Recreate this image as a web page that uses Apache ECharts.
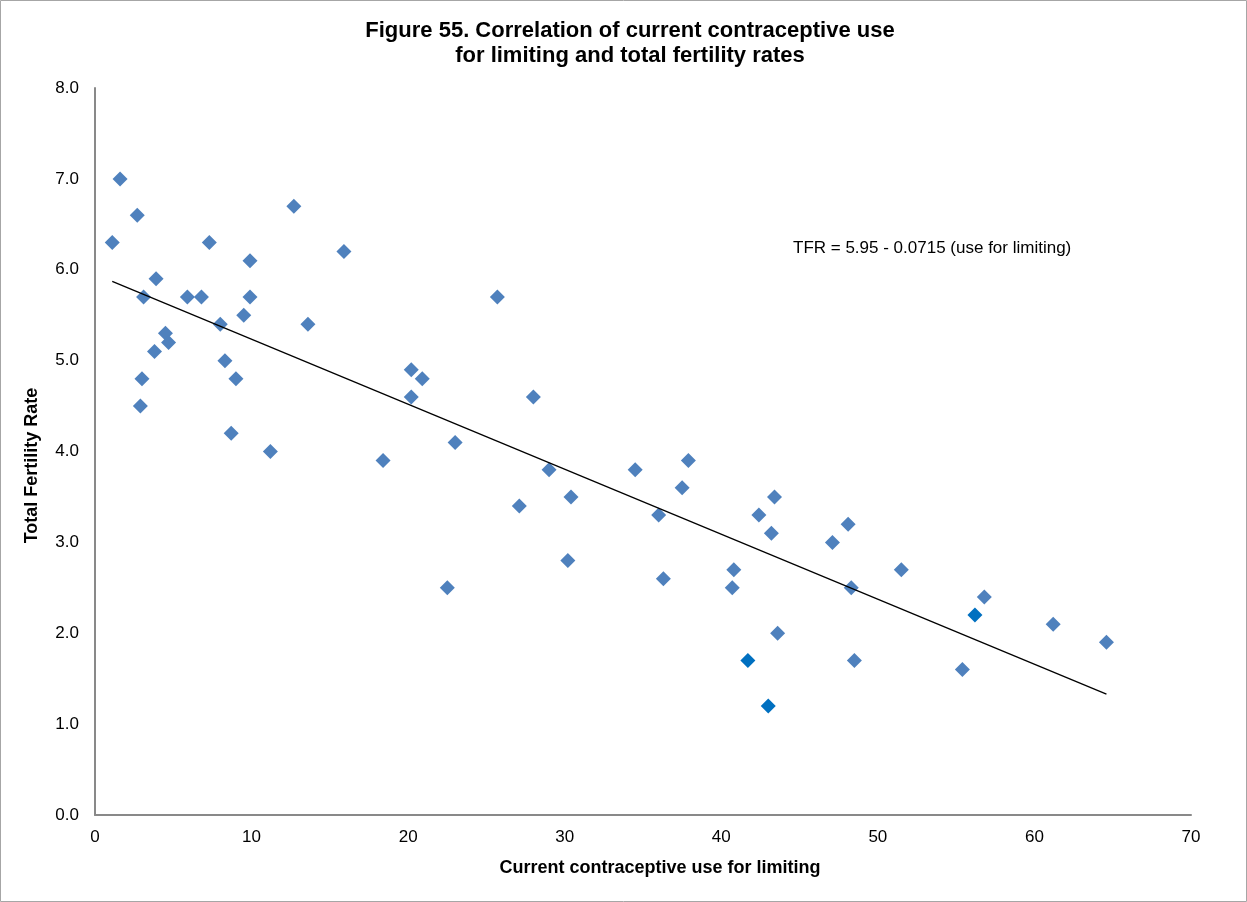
<!DOCTYPE html>
<html>
<head>
<meta charset="utf-8">
<title>Figure 55</title>
<script src="https://cdn.jsdelivr.net/npm/echarts@6/dist/echarts.min.js"></script>
<style>
  html, body { margin: 0; padding: 0; background: #fff; }
  #chart { width: 1247px; height: 902px; }
</style>
</head>
<body>
<div id="chart"></div>
<script>
// Current contraceptive use for limiting (%) per country
const useForLimiting = [
  1.1, 1.6, 2.7, 3.9, 3.1, 4.5, 3.8, 4.7, 3.0, 2.9,
  5.9, 6.8, 7.3, 8.0, 8.3, 9.0, 8.7, 9.5, 9.9, 9.9,
  11.2, 12.7, 13.6, 15.9, 18.4, 20.2, 20.2, 20.9, 22.5, 23.0,
  25.7, 27.1, 28.0, 29.0, 30.4, 30.2, 34.5, 36.0, 36.3, 37.5,
  37.9, 40.8, 40.7, 41.7, 42.4, 43.2, 43.4, 43.0, 43.6, 47.1,
  48.1, 48.3, 48.5, 51.5, 55.4, 56.2, 56.8, 61.2, 64.6
];
// Total fertility rate for the same countries
const totalFertilityRate = [
  6.3, 7.0, 6.6, 5.9, 5.7, 5.3, 5.1, 5.2, 4.8, 4.5,
  5.7, 5.7, 6.3, 5.4, 5.0, 4.8, 4.2, 5.5, 6.1, 5.7,
  4.0, 6.7, 5.4, 6.2, 3.9, 4.9, 4.6, 4.8, 2.5, 4.1,
  5.7, 3.4, 4.6, 3.8, 3.5, 2.8, 3.8, 3.3, 2.6, 3.6,
  3.9, 2.7, 2.5, 1.7, 3.3, 3.1, 3.5, 1.2, 2.0, 3.0,
  3.2, 2.5, 1.7, 2.7, 1.6, 2.2, 2.4, 2.1, 1.9
];
// Points drawn in the darker blue
const darkPoints = [43, 47, 55];

// Fitted regression: TFR = a + b * (use for limiting)
const fitIntercept = 5.95;
const fitSlope = -0.0715;
const fitLabel = 'TFR = 5.95 - 0.0715 (use for limiting)';

const xTicks = [0, 10, 20, 30, 40, 50, 60, 70];
const yTicks = [0, 1, 2, 3, 4, 5, 6, 7, 8];

const FONT = '"Liberation Sans", Arial, sans-serif';

const points = useForLimiting.map((x, i) => {
  const p = { value: [x, totalFertilityRate[i]] };
  if (darkPoints.includes(i)) p.itemStyle = { color: '#0070C0', opacity: 1 };
  return p;
});

const xMin = Math.min(...useForLimiting);
const xMax = Math.max(...useForLimiting);
const fitLine = [
  [xMin, fitIntercept + fitSlope * xMin],
  [xMax, fitIntercept + fitSlope * xMax]
];

const chart = echarts.init(document.getElementById('chart'), null, { renderer: 'canvas' });

chart.setOption({
  backgroundColor: '#ffffff',
  animation: false,
  title: {
    text: 'Figure 55. Correlation of current contraceptive use\nfor limiting and total fertility rates',
    left: 625,
    top: 13,
    textAlign: 'center',
    textStyle: {
      fontFamily: FONT,
      fontWeight: 'bold',
      fontSize: 22,
      lineHeight: 25,
      color: '#000'
    }
  },
  grid: { left: 95, top: 88, right: 56, bottom: 87, containLabel: false },
  xAxis: {
    type: 'value',
    min: xTicks[0],
    max: xTicks[xTicks.length - 1],
    interval: 10,
    name: 'Current contraceptive use for limiting',
    nameLocation: 'middle',
    nameGap: 44,
    nameTextStyle: {
      fontFamily: FONT, fontWeight: 'bold', fontSize: 18, color: '#000',
      padding: [0, 0, 0, 34]
    },
    axisLine: { show: true, lineStyle: { color: '#898989', width: 2 } },
    axisTick: { show: false },
    splitLine: { show: false },
    axisLabel: { fontFamily: FONT, fontSize: 17, color: '#000', margin: 14 }
  },
  yAxis: {
    type: 'value',
    min: yTicks[0],
    max: yTicks[yTicks.length - 1],
    interval: 1,
    name: 'Total Fertility Rate',
    nameLocation: 'middle',
    nameGap: 54,
    nameRotate: 90,
    nameTextStyle: {
      fontFamily: FONT, fontWeight: 'bold', fontSize: 18, color: '#000',
      padding: [0, 28, 0, 0]
    },
    axisLine: { show: true, lineStyle: { color: '#898989', width: 2 } },
    axisTick: { show: false },
    splitLine: { show: false },
    axisLabel: {
      fontFamily: FONT, fontSize: 17, color: '#000', margin: 16,
      formatter: v => v.toFixed(1)
    }
  },
  series: [
    {
      name: 'Fit',
      type: 'line',
      data: fitLine,
      symbol: 'none',
      lineStyle: { color: '#000', width: 1.3 },
      z: 3
    },
    {
      name: 'Countries',
      type: 'scatter',
      data: points,
      symbol: 'diamond',
      symbolSize: 15,
      itemStyle: { color: '#4F81BD', opacity: 1 },
      z: 2
    }
  ],
  graphic: [
    {
      type: 'text',
      left: 793,
      top: 240,
      style: { text: fitLabel, fontFamily: FONT, fontSize: 17, fill: '#000' }
    },
    {
      type: 'rect',
      shape: { x: 0.5, y: 0.5, width: 1246, height: 901 },
      style: { fill: 'none', stroke: '#a6a6a6', lineWidth: 1 },
      silent: true
    }
  ]
});
</script>
</body>
</html>
